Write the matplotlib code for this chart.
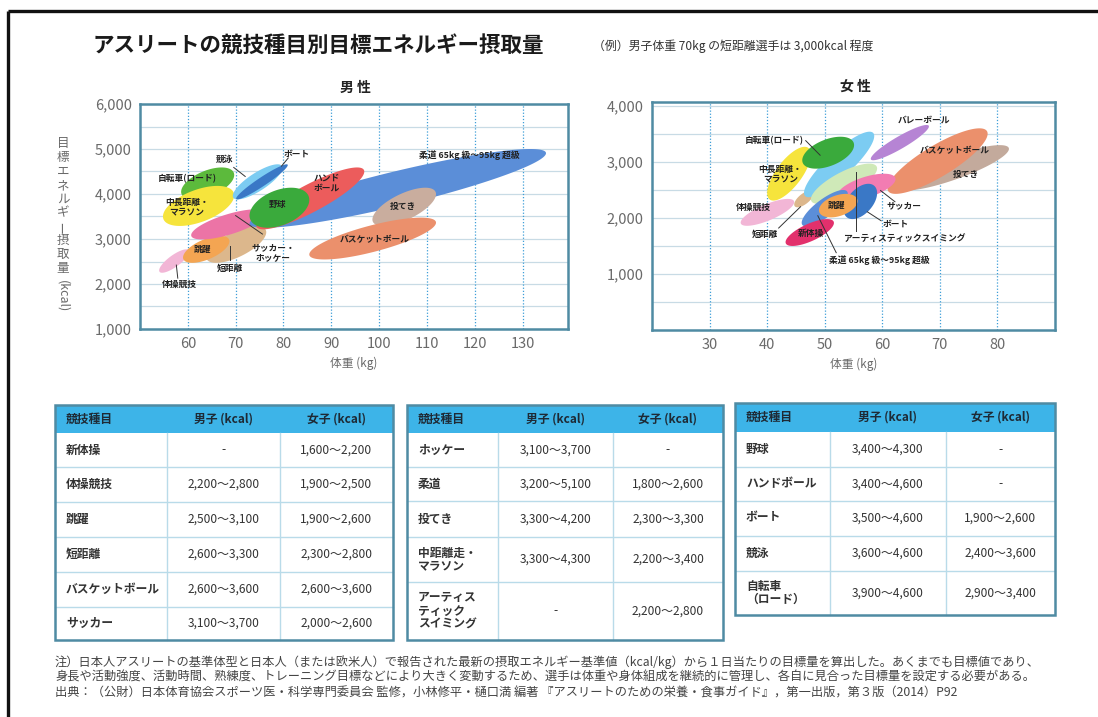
import numpy as np
import matplotlib
matplotlib.use("Agg")
import matplotlib.pyplot as plt
from matplotlib.patches import Rectangle

plt.rcParams['font.family'] = ['Noto Sans CJK JP', 'DejaVu Sans']

# ---------------- data ----------------
title = "アスリートの競技種目別目標エネルギー摂取量"
subtitle = "（例）男子体重 70kg の短距離選手は 3,000kcal 程度"

# male chart: weight range (kg) and energy range (kcal) read from the ellipses
male_sports = ['体操競技', '短距離', '跳躍', 'サッカー・ホッケー', '自転車(ロード)', '中長距離・マラソン',
               '競泳', 'ボート', '柔道', 'ハンドボール', '野球', '投てき', 'バスケットボール']
male_w_lo = [54.0, 63.8, 59.0, 60.7, 58.6, 54.8, 69.4, 70.1, 72.9, 74.3, 72.9, 98.6, 85.4]
male_w_hi = [60.3, 76.4, 68.7, 76.4, 69.7, 69.7, 79.8, 80.9, 134.9, 96.9, 85.4, 111.9, 111.9]
male_k_lo = [2250, 2470, 2470, 2990, 3880, 3290, 3880, 3880, 3250, 3215, 3250, 3290, 2545]
male_k_hi = [2770, 3290, 3070, 3660, 4590, 4180, 4660, 4660, 5000, 4590, 4140, 4140, 3475]

female_sports = ['投てき', 'バスケットボール', 'バレーボール', '体操競技', '短距離', '中長距離・マラソン',
                 '競泳', '自転車(ロード)', 'アーティスティックスイミング', 'サッカー', '柔道', 'ボート',
                 '跳躍', '新体操']
female_w_lo = [62.6, 60.9, 58.0, 35.4, 44.7, 40.0, 46.4, 46.1, 47.6, 52.2, 46.0, 53.3, 49.0, 43.2]
female_w_hi = [82.0, 78.3, 68.1, 44.7, 48.1, 47.6, 58.6, 55.1, 59.1, 62.3, 54.0, 59.1, 55.7, 51.6]
female_k_lo = [2490, 2430, 3030, 1860, 2190, 2310, 2370, 2880, 2250, 2310, 1850, 1980, 2010, 1500]
female_k_hi = [3300, 3600, 3660, 2340, 2490, 3270, 3540, 3450, 2970, 2790, 2500, 2610, 2430, 1980]

male_xticks = [60, 70, 80, 90, 100, 110, 120, 130]
male_yticks = [1000, 2000, 3000, 4000, 5000, 6000]
female_xticks = [30, 40, 50, 60, 70, 80]
female_yticks = [1000, 2000, 3000, 4000]

# tables
t1_names = ['新体操', '体操競技', '跳躍', '短距離', 'バスケットボール', 'サッカー']
t1_male = ['-', '2,200～2,800', '2,500～3,100', '2,600～3,300', '2,600～3,600', '3,100～3,700']
t1_female = ['1,600～2,200', '1,900～2,500', '1,900～2,600', '2,300～2,800', '2,600～3,600', '2,000～2,600']
t2_names = ['ホッケー', '柔道', '投てき', '中距離走・\nマラソン', 'アーティス\nティック\nスイミング']
t2_male = ['3,100～3,700', '3,200～5,100', '3,300～4,200', '3,300～4,300', '-']
t2_female = ['-', '1,800～2,600', '2,300～3,300', '2,200～3,400', '2,200～2,800']
t3_names = ['野球', 'ハンドボール', 'ボート', '競泳', '自転車\n（ロード）']
t3_male = ['3,400～4,300', '3,400～4,600', '3,500～4,600', '3,600～4,600', '3,900～4,600']
t3_female = ['-', '-', '1,900～2,600', '2,400～3,600', '2,900～3,400']
headers = ['競技種目', '男子 (kcal)', '女子 (kcal)']

notes = [
    "注）日本人アスリートの基準体型と日本人（または欧米人）で報告された最新の摂取エネルギー基準値（kcal/kg）から１日当たりの目標量を算出した。あくまでも目標値であり、",
    "身長や活動強度、活動時間、熟練度、トレーニング目標などにより大きく変動するため、選手は体重や身体組成を継続的に管理し、各自に見合った目標量を設定する必要がある。",
    "出典：（公財）日本体育協会スポーツ医・科学専門委員会 監修，小林修平・樋口満 編著 『アスリートのための栄養・食事ガイド』，第一出版，第３版（2014）P92",
]

# ---------------- styles ----------------
male_style = {
    '体操競技': ('#f2b6d6', 0.6), '短距離': ('#dcb78c', 0.75), '跳躍': ('#f4a552', 0.8),
    'サッカー・ホッケー': ('#ec74a6', 0.7), '自転車(ロード)': ('#5cba3c', 0.85),
    '中長距離・マラソン': ('#f6e43c', 0.85), '競泳': ('#7cccf2', 0.6), 'ボート': ('#3a78c6', 0.3),
    '柔道': ('#5b8ed8', 0.45), 'ハンドボール': ('#ec5c5c', 0.5), '野球': ('#3aaa3c', 0.92),
    '投てき': ('#c9ad9e', 0.75), 'バスケットボール': ('#eb906c', 0.65),
}
female_style = {
    '投てき': ('#c3aa9c', 0.55), 'バスケットボール': ('#eb906c', 0.55), 'バレーボール': ('#b684d4', 0.4),
    '体操競技': ('#f2b6d6', 0.65), '短距離': ('#dcb78c', 0.75), '中長距離・マラソン': ('#f6e43c', 0.7),
    '競泳': ('#7cccf2', 0.5), '自転車(ロード)': ('#3aaa3c', 0.88),
    'アーティスティックスイミング': ('#cfe9b8', 0.65), 'サッカー': ('#f27cb2', 0.8),
    '柔道': ('#5b8ed8', 0.6), 'ボート': ('#3a78c6', 0.88), '跳躍': ('#f4a552', 0.92),
    '新体操': ('#e2306c', 0.7),
}

SPINE = '#4f8ba3'
TICKC = '#6a6a6a'
GRIDH = '#c8dbe5'
GRIDV = '#3f9fd8'

fig = plt.figure(figsize=(10.98, 7.17), dpi=100)
fig.patch.set_facecolor('white')

# overlay in pixel coordinates
ov = fig.add_axes([0, 0, 1, 1], zorder=0)
ov.set_xlim(0, 1098)
ov.set_ylim(717, 0)
ov.axis('off')


def blob(ax, wlo, whi, klo, khi, r, color, z):
    t = np.linspace(0, 2 * np.pi, 240)
    phi = np.arcsin(r)
    cx, a = (wlo + whi) / 2, (whi - wlo) / 2
    cy, b = (klo + khi) / 2, (khi - klo) / 2
    ax.fill(cx + a * np.cos(t), cy + b * np.cos(t - phi), color=color, lw=0, zorder=z)


def setup(ax, xlim, ylim, xticks, yticks):
    ax.set_xlim(*xlim)
    ax.set_ylim(*ylim)
    ax.set_axisbelow(True)
    ax.set_xticks(xticks)
    ax.set_xticklabels([str(v) for v in xticks])
    ax.set_yticks(yticks)
    ax.set_yticklabels([f"{v:,}" for v in yticks])
    ax.grid(False)
    for v in np.arange(500, ylim[1] + 1, 500):
        ax.axhline(v, color=GRIDH, lw=0.9, zorder=0)
    for v in xticks:
        ax.axvline(v, color=GRIDV, lw=0.9, ls=(0, (1, 1.5)), zorder=0.5)
    for s in ax.spines.values():
        s.set_color(SPINE)
        s.set_linewidth(1.8)
    ax.tick_params(axis='both', which='both', length=0, labelsize=10.5, labelcolor=TICKC, pad=6)
    ax.set_xlabel('体重 (kg)', fontsize=8.5, color=TICKC, labelpad=4)


def lab(ax, x, y, s, fs=6.3):
    ax.text(x, y, s, ha='center', va='center', fontsize=fs, fontweight='bold', color='#222222',
            zorder=20, linespacing=1.1)


def lead(ax, xs, ys):
    ax.plot(xs, ys, color='#333333', lw=0.7, zorder=19)


# ---------------- male chart ----------------
axm = fig.add_axes([140 / 1098, 1 - 329 / 717, 428 / 1098, 225 / 717], zorder=1)
setup(axm, (50, 139.5), (1000, 6000), male_xticks, male_yticks)
for i, s in enumerate(male_sports):
    c, r = male_style[s]
    blob(axm, male_w_lo[i], male_w_hi[i], male_k_lo[i], male_k_hi[i], r, c, 2 + i)

lab(axm, 67.7, 4775, '競泳')
lead(axm, [69.6, 72.0], [4590, 4390])
lab(axm, 82.8, 4890, 'ボート')
lead(axm, [81.0, 79.6], [4800, 4620])
lab(axm, 59.9, 4340, '自転車(ロード)')
lab(axm, 59.8, 3700, '中長距離・\nマラソン')
lab(axm, 78.7, 3770, '野球')
lab(axm, 89.0, 4250, 'ハンド\nボール')
lab(axm, 118.8, 4860, '柔道 65kg 級～95kg 超級')
lab(axm, 104.9, 3730, '投てき')
lab(axm, 99.0, 2990, 'バスケットボール')
lab(axm, 77.8, 2700, 'サッカー・\nホッケー')
lead(axm, [70.0, 75.6], [3520, 3110])
lab(axm, 63.1, 2770, '跳躍')
lab(axm, 68.7, 2340, '短距離')
lead(axm, [68.9, 68.9], [2850, 2530])
lab(axm, 58.2, 1990, '体操競技')
lead(axm, [57.6, 57.9], [2420, 2130])
fig.text(355 / 1098, 1 - 88 / 717, '男 性', ha='center', va='center', fontsize=10, fontweight='bold',
         color='#222222')

# ---------------- female chart ----------------
axf = fig.add_axes([652 / 1098, 1 - 330 / 717, 403 / 1098, 228 / 717], zorder=1)
setup(axf, (20, 90), (0, 4070), female_xticks, female_yticks)
for i, s in enumerate(female_sports):
    c, r = female_style[s]
    blob(axf, female_w_lo[i], female_w_hi[i], female_k_lo[i], female_k_hi[i], r, c, 2 + i)

lab(axf, 67.3, 3740, 'バレーボール')
lab(axf, 41.3, 3380, '自転車(ロード)')
lead(axf, [46.7, 49.2], [3380, 3120])
lab(axf, 72.5, 3210, 'バスケットボール')
lab(axf, 42.3, 2780, '中長距離・\nマラソン')
lab(axf, 74.5, 2780, '投てき')
lab(axf, 37.6, 2180, '体操競技')
lab(axf, 52.1, 2220, '跳躍')
lab(axf, 63.8, 2220, 'サッカー')
lead(axf, [59.7, 62.2], [2490, 2290])
lab(axf, 62.3, 1880, 'ボート')
lead(axf, [57.4, 59.8], [2110, 1950])
lab(axf, 63.8, 1640, 'アーティスティックスイミング')
lead(axf, [55.5, 55.5], [2820, 1760])
lab(axf, 39.7, 1710, '短距離')
lead(axf, [45.8, 42.0], [2200, 1820])
lab(axf, 47.6, 1720, '新体操')
lab(axf, 59.4, 1240, '柔道 65kg 級～95kg 超級')
lead(axf, [48.8, 52.0], [2040, 1380])
fig.text(855 / 1098, 1 - 87 / 717, '女 性', ha='center', va='center', fontsize=10, fontweight='bold',
         color='#222222')

# ---------------- y label (vertical writing) ----------------
ylab = '目標エネルギー摂取量'
for k, ch in enumerate(ylab):
    ov.text(63, 144 + k * 13.8, ch, ha='center', va='center', fontsize=9, color=TICKC,
            rotation=90 if ch == 'ー' else 0)
ov.text(63, 296, '(kcal)', ha='center', va='center', fontsize=9, color=TICKC, rotation=270)

# ---------------- titles ----------------
ov.text(93, 45, title, ha='left', va='center', fontsize=15.5, fontweight='bold', color='#1a1a1a')
ov.text(593, 46, subtitle, ha='left', va='center', fontsize=8.6, color='#333333')

# ---------------- frame ----------------
ov.plot([8, 1098], [11, 11], color='#111111', lw=2.4, solid_capstyle='butt')
ov.plot([8, 8], [11, 717], color='#111111', lw=2.4, solid_capstyle='butt')


# ---------------- tables ----------------
def table(xs, ys, names, male, female):
    x0, x1 = xs[0], xs[-1]
    ov.add_patch(Rectangle((x0, ys[0]), x1 - x0, ys[1] - ys[0], facecolor='#3db4e8', edgecolor='none', zorder=1))
    for y in ys[2:-1]:
        ov.plot([x0, x1], [y, y], color='#b9dbe9', lw=1.0, zorder=2)
    for x in xs[1:-1]:
        ov.plot([x, x], [ys[1], ys[-1]], color='#b9dbe9', lw=1.0, zorder=2)
    ov.add_patch(Rectangle((x0, ys[0]), x1 - x0, ys[-1] - ys[0], facecolor='none', edgecolor=SPINE,
                           lw=1.8, zorder=3))
    hy = (ys[0] + ys[1]) / 2
    ov.text(x0 + 11, hy, headers[0], ha='left', va='center', fontsize=8.5, fontweight='bold', color='#1e2a35', zorder=4)
    ov.text((xs[1] + xs[2]) / 2, hy, headers[1], ha='center', va='center', fontsize=8.5, fontweight='bold', color='#1e2a35', zorder=4)
    ov.text((xs[2] + xs[3]) / 2, hy, headers[2], ha='center', va='center', fontsize=8.5, fontweight='bold', color='#1e2a35', zorder=4)
    for i in range(len(names)):
        cy = (ys[i + 1] + ys[i + 2]) / 2
        ov.text(x0 + 11, cy, names[i], ha='left', va='center', fontsize=8.5, fontweight='bold', color='#333333',
                linespacing=1.0, zorder=4)
        ov.text((xs[1] + xs[2]) / 2, cy, male[i], ha='center', va='center', fontsize=8.6, color='#333333', zorder=4)
        ov.text((xs[2] + xs[3]) / 2, cy, female[i], ha='center', va='center', fontsize=8.6, color='#333333', zorder=4)


table([55, 167, 280, 393], [405, 433, 467, 502, 537, 572, 607, 640], t1_names, t1_male, t1_female)
table([407, 498, 613, 723], [405, 433, 467, 501, 537, 582, 640], t2_names, t2_male, t2_female)
table([735, 830, 946, 1055], [403, 432, 467, 501, 536, 571, 615], t3_names, t3_male, t3_female)

# ---------------- notes ----------------
for k, line in enumerate(notes):
    ov.text(55, 662 + k * 15.5, line, ha='left', va='center', fontsize=8.8, color='#444444')

fig.savefig('out.png', dpi=100)
